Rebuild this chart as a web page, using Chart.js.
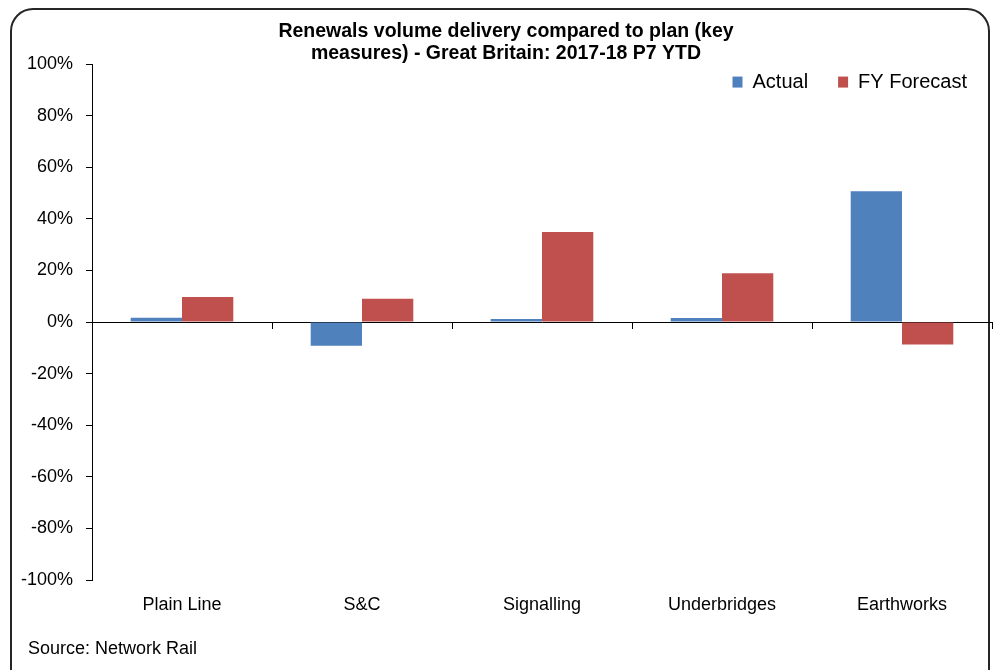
<!DOCTYPE html>
<html>
<head>
<meta charset="utf-8">
<script src="https://cdn.jsdelivr.net/npm/chart.js@4"></script>
<style>
   html, body { margin: 0; padding: 0; background: #fff; }
   #wrap { width: 993px; height: 670px; }
</style>
</head>
<body>
<div id="wrap"><canvas id="renewalsChart"></canvas></div>
<script>
const categories = ["Plain Line", "S&C", "Signalling", "Underbridges", "Earthworks"];
const actualValues = [1.7, -9.2, 1.2, 1.6, 50.7];
const forecastValues = [9.7, 9.0, 34.9, 18.9, -8.7];
const titleLines = ["Renewals volume delivery compared to plan (key", "measures) - Great Britain: 2017-18 P7 YTD"];
const sourceText = "Source: Network Rail";

const FONT = "'Liberation Sans', Arial, sans-serif";

// rounded frame + source note
const framePlugin = {
   id: "frame",
   beforeDraw(chart) {
      const ctx = chart.ctx;
      ctx.save();
      ctx.strokeStyle = "#262626";
      ctx.lineWidth = 2;
      ctx.beginPath();
      ctx.roundRect(11, 9, 978, 700, 22);
      ctx.stroke();
      ctx.restore();
   },
   afterDraw(chart) {
      const ctx = chart.ctx;
      ctx.save();
      ctx.font = "18px " + FONT;
      ctx.fillStyle = "#000";
      ctx.textBaseline = "middle";
      ctx.fillText(sourceText, 28, 649);
      ctx.restore();
   }
};

// legend sits inside the plot, in one row at the top right
const legendRowPlugin = {
   id: "legendRow",
   beforeLayout(chart) {
      if (chart.legend) chart.legend.isHorizontal = () => true;
   },
   afterLayout(chart) {
      const lg = chart.legend;
      if (!lg) return;
      const area = chart.chartArea;
      lg.left = area.left;
      lg.right = area.right + 5;
      lg.top = area.top - 22;
      lg.bottom = area.bottom;
   }
};

const ctx = document.getElementById("renewalsChart").getContext("2d");
const renewalsChart = new Chart(ctx, {
   type: "bar",
   data: {
      labels: categories,
      datasets: [
         { label: "Actual", data: actualValues, backgroundColor: "#4F81BD" },
         { label: "FY Forecast", data: forecastValues, backgroundColor: "#C0504D" }
      ]
   },
   options: {
      responsive: true,
      maintainAspectRatio: false,
      animation: false,
      layout: { padding: { left: 20, right: 1, top: 0, bottom: 0 } },
      datasets: {
         bar: { categoryPercentage: 0.57, barPercentage: 1.0 }
      },
      scales: {
         x: {
            grid: { display: false },
            border: { display: false },
            ticks: { color: "#000", font: { family: FONT, size: 18 }, padding: 6 },
            afterFit(scale) { scale.height = 90; }
         },
         xZero: {
            type: "category",
            labels: categories,
            position: { y: 0 },
            grid: { drawOnChartArea: false, offset: true, tickLength: 6, color: "#000" },
            border: { color: "#000", width: 1 },
            ticks: { display: false }
         },
         y: {
            min: -100,
            max: 100,
            ticks: {
               stepSize: 20,
               color: "#000",
               font: { family: FONT, size: 18 },
               padding: 13,
               callback: v => v + "%"
            },
            grid: { drawOnChartArea: false, tickLength: 6, color: "#000" },
            border: { color: "#000", width: 1 },
            afterFit(scale) { scale.width = 72; }
         }
      },
      plugins: {
         title: {
            display: true,
            text: titleLines,
            color: "#000",
            font: { family: FONT, size: 19.5, weight: "bold", lineHeight: 1.13 },
            padding: { top: 21, bottom: -1 }
         },
         legend: {
            position: "chartArea",
            align: "end",
            labels: {
               boxWidth: 10,
               boxHeight: 11,
               color: "#000",
               font: { family: FONT, size: 20 },
               padding: 30
            }
         },
         tooltip: { enabled: false }
      }
   },
   plugins: [framePlugin, legendRowPlugin]
});
</script>
</body>
</html>
